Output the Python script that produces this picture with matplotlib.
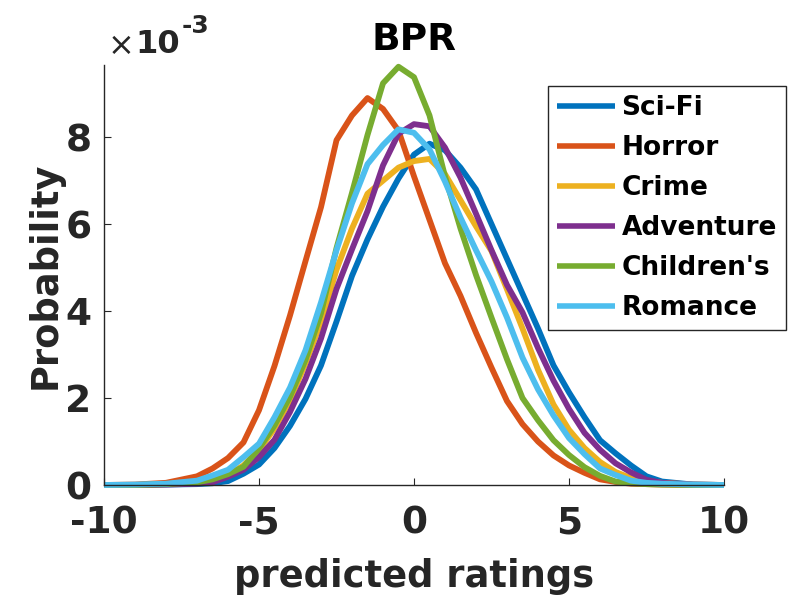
import matplotlib
matplotlib.use("Agg")
import matplotlib.pyplot as plt
import numpy as np
from matplotlib.ticker import FuncFormatter

plt.rcParams['font.family'] = ['DejaVu Sans']
plt.rcParams['axes.unicode_minus'] = False

# predicted rating grid
x = [-10, -9, -8, -7, -6.5, -6, -5.5, -5, -4.5, -4, -3.5, -3, -2.5, -2, -1.5, -1, -0.5,
     0, 0.5, 1, 1.5, 2, 2.5, 3, 3.5, 4, 4.5, 5, 5.5, 6, 6.5, 7, 7.5, 8, 9, 10]

# probabilities in units of 1e-3
scifi = [0, 0, 0.01, 0.02, 0.04, 0.09, 0.26, 0.47, 0.85, 1.36, 1.98, 2.75, 3.76, 4.81, 5.65, 6.4, 7.05,
         7.6, 7.85, 7.7, 7.3, 6.8, 6.0, 5.2, 4.4, 3.6, 2.75, 2.13, 1.56, 1.03, 0.73, 0.45, 0.2, 0.08, 0.01, 0]
horror = [0, 0.01, 0.05, 0.2, 0.38, 0.62, 0.98, 1.72, 2.74, 3.9, 5.15, 6.39, 7.93, 8.5, 8.9, 8.65, 8.15,
          7.1, 6.1, 5.1, 4.35, 3.5, 2.7, 1.93, 1.4, 1.0, 0.68, 0.45, 0.28, 0.13, 0.07, 0.03, 0.02, 0.01, 0, 0]
crime = [0, 0, 0.02, 0.06, 0.12, 0.24, 0.45, 0.8, 1.3, 1.95, 2.8, 3.75, 4.95, 5.9, 6.7, 7.0, 7.3,
         7.45, 7.5, 7.15, 6.55, 5.95, 5.38, 4.5, 3.6, 2.65, 1.85, 1.27, 0.85, 0.53, 0.3, 0.16, 0.08, 0.05, 0.01, 0]
adventure = [0, 0, 0.01, 0.03, 0.06, 0.19, 0.35, 0.64, 1.04, 1.68, 2.44, 3.37, 4.51, 5.42, 6.3, 7.35, 8.08,
             8.3, 8.25, 7.76, 7.07, 6.24, 5.4, 4.6, 3.97, 3.15, 2.4, 1.75, 1.2, 0.81, 0.5, 0.29, 0.12, 0.05, 0.01, 0]
childrens = [0, 0, 0.02, 0.06, 0.13, 0.25, 0.42, 0.84, 1.37, 2.03, 2.88, 3.95, 5.45, 6.72, 8.05, 9.24, 9.62,
             9.38, 8.5, 7.1, 5.9, 4.83, 3.85, 2.89, 2.0, 1.49, 1.03, 0.69, 0.41, 0.21, 0.08, 0.04, 0.02, 0.01, 0, 0]
romance = [0, 0.01, 0.03, 0.1, 0.22, 0.35, 0.64, 0.95, 1.56, 2.24, 3.1, 4.2, 5.4, 6.48, 7.38, 7.82, 8.18,
           8.1, 7.72, 6.98, 6.15, 5.4, 4.68, 3.85, 2.93, 2.2, 1.6, 1.08, 0.71, 0.38, 0.23, 0.1, 0.05, 0.03, 0.01, 0]

labels = ["Sci-Fi", "Horror", "Crime", "Adventure", "Children's", "Romance"]
series = [scifi, horror, crime, adventure, childrens, romance]
colors = ["#0072BD", "#D95319", "#EDB120", "#7E2F8E", "#77AC30", "#4DBEEE"]

xticks = [-10, -5, 0, 5, 10]
yticks = [0, 2, 4, 6, 8]
scale = 1e-3

W, H = 800, 600
fig = plt.figure(figsize=(8, 6), dpi=100)
ax = fig.add_axes([104 / W, 1 - 485 / H, 620 / W, 420 / H])
dark = "#262626"

for s, lab, c in zip(series, labels, colors):
    ax.plot(x, np.array(s) * scale, color=c, lw=4.2, label=lab, clip_on=False,
            solid_joinstyle='round', solid_capstyle='butt')

ax.set_xlim(-10, 10)
ax.set_ylim(0, 9.66e-3)
ax.set_xticks(xticks)
ax.set_yticks([t * scale for t in yticks])
ax.yaxis.set_major_formatter(FuncFormatter(lambda v, p: f"{v/scale:.0f}"))
ax.xaxis.set_major_formatter(FuncFormatter(lambda v, p: f"{v:.0f}"))

for side in ['top', 'right']:
    ax.spines[side].set_visible(False)
for side in ['left', 'bottom']:
    ax.spines[side].set_color(dark)
    ax.spines[side].set_linewidth(1.0)

ax.tick_params(direction='in', length=5, width=0.8, color=dark, labelcolor=dark,
               labelsize=27)
ax.tick_params(axis='y', pad=9)
ax.tick_params(axis='x', pad=15)
for t in ax.get_xticklabels() + ax.get_yticklabels():
    t.set_fontweight('bold')

ax.set_xlabel("predicted ratings", fontsize=26.5, fontweight='bold', color=dark)
ax.xaxis.label.set_va('baseline')
ax.xaxis.set_label_coords(0.5, (485 - 587) / 420)
ax.set_ylabel("Probability", fontsize=26.5, fontweight='bold', color=dark)
ax.yaxis.label.set_va('baseline')
ax.yaxis.set_label_coords((56 - 104) / 620, 0.5)
ax.set_title("BPR", fontsize=27, fontweight='bold', color='black', pad=11)

# exponent label
fig.text(108 / W, 1 - 55 / H, "\u00d7", fontsize=23, color=dark, ha='left', va='baseline')
fig.text(135 / W, 1 - 53 / H, "10", fontsize=23, fontweight='bold', color=dark, ha='left', va='baseline')
fig.text(182 / W, 1 - 33 / H, "-3", fontsize=18, fontweight='bold', color=dark, ha='left', va='baseline')

leg = ax.legend(loc='upper right', bbox_to_anchor=(786 / W, 1 - 86 / H),
                bbox_transform=fig.transFigure, prop={'weight': 'bold', 'size': 19},
                frameon=True, fancybox=False, framealpha=1, edgecolor=dark,
                handlelength=2.2, handletextpad=0.25, labelspacing=0.53,
                borderpad=0.35, borderaxespad=0)
leg.get_frame().set_linewidth(1.0)
for line in leg.get_lines():
    line.set_linewidth(4)

fig.savefig("out.png", dpi=100)
